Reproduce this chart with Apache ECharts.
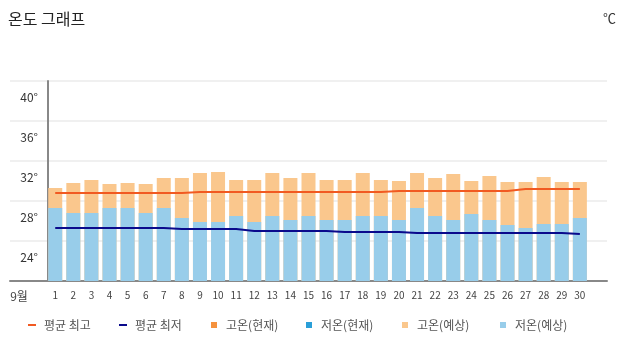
<!DOCTYPE html>
<html>
<head>
<meta charset="utf-8">
<script src="https://cdn.jsdelivr.net/npm/echarts@6/dist/echarts.min.js"></script>
<style>html,body{margin:0;padding:0;background:#fff;}#c{width:628px;height:358px;}</style>
</head>
<body>
<div id="c"></div>
<script>
var monthLabel = '9월';
var days = ['1','2','3','4','5','6','7','8','9','10','11','12','13','14','15','16','17','18','19','20','21','22','23','24','25','26','27','28','29','30'];
var highForecast = [29.3,29.8,30.1,29.7,29.8,29.7,30.3,30.3,30.8,30.9,30.1,30.1,30.8,30.3,30.8,30.1,30.1,30.8,30.1,30.0,30.8,30.3,30.7,30.0,30.5,29.9,29.9,30.4,29.9,29.9];
var lowForecast = [27.3,26.8,26.8,27.3,27.3,26.8,27.3,26.3,25.9,25.9,26.5,25.9,26.5,26.1,26.5,26.1,26.1,26.5,26.5,26.1,27.3,26.5,26.1,26.7,26.1,25.6,25.3,25.7,25.7,26.3];
var avgHigh = [28.8,28.8,28.8,28.8,28.8,28.8,28.8,28.8,28.9,28.9,28.9,28.9,28.9,28.9,28.9,28.9,28.9,28.9,28.9,29.0,29.0,29.0,29.0,29.0,29.0,29.0,29.2,29.2,29.2,29.2];
var avgLow = [25.3,25.3,25.3,25.3,25.3,25.3,25.3,25.2,25.2,25.2,25.2,25.0,25.0,25.0,25.0,25.0,24.9,24.9,24.9,24.9,24.8,24.8,24.8,24.8,24.8,24.8,24.8,24.8,24.8,24.7];
var highNow = [];
var lowNow = [];
var yTicks = [20, 24, 28, 32, 36, 40];

var cats = [monthLabel, ''].concat(days).concat(['']);
function pad(arr){ var out=[null,null]; for (var i=0;i<days.length;i++){ out.push(arr[i]===undefined?null:arr[i]); } out.push(null); return out; }

var font = '"Noto Sans CJK KR", "Noto Sans", sans-serif';
var names = ['평균 최고','평균 최저','고온(현재)','저온(현재)','고온(예상)','저온(예상)'];
var colors = ['#f15a22','#0a0a8c','#f5923e','#2a9fd8','#fac78d','#98cdea'];
var legendLefts = [28,119,211,306,402,500];
var legends = names.map(function(n,i){
  var isLine = i < 2;
  return {
    data:[n], left: legendLefts[i], top: 319, itemWidth: isLine?8:6, itemHeight: isLine?2:6,
    icon: 'rect', itemGap: 0, padding: 0,
    textStyle:{color:'#555', fontSize:12, fontFamily:font, padding:[0,0,0,isLine?3:4]},
    selectedMode:false
  };
});

var chart = echarts.init(document.getElementById('c'), null, {renderer:'canvas'});
chart.setOption({
  animation:false,
  backgroundColor:'#fff',
  title:[
    {text:'온도 그래프', left:8, top:11, padding:0, textStyle:{fontSize:16, fontWeight:'normal', color:'#222', fontFamily:font}},
    {text:'℃', right:12, top:12, padding:0, textStyle:{fontSize:13, fontWeight:'normal', color:'#333', fontFamily:font}}
  ],
  legend: legends,
  grid:{left:10, right:21, top:81, bottom:77, containLabel:false},
  xAxis:{
    type:'category', data:cats,
    axisLine:{lineStyle:{color:'#888', width:2}},
    axisTick:{show:false},
    axisLabel:{interval:0, color:'#444', fontSize:10, margin:9, fontFamily:font,
      formatter:function(v){ return v===monthLabel ? '{m|'+v+'}' : v; },
      rich:{m:{fontSize:12, color:'#444', fontFamily:font}}},
    splitLine:{show:false}
  },
  yAxis:{
    type:'value', min:yTicks[0], max:yTicks[yTicks.length-1], interval:4, offset:-38,
    axisLine:{show:true, lineStyle:{color:'#888', width:2}},
    axisTick:{show:false},
    axisLabel:{showMinLabel:false, color:'#333', fontSize:12, margin:10, fontFamily:font,
      verticalAlign:'top', lineHeight:32,
      formatter:function(v){ return v+'°'; }},
    splitLine:{show:true, lineStyle:{color:'#ebebeb', width:1.5}}
  },
  series:[
    {name:names[0], type:'line', data:pad(avgHigh), symbol:'none', z:5, lineStyle:{color:colors[0], width:2}, itemStyle:{color:colors[0]}},
    {name:names[1], type:'line', data:pad(avgLow), symbol:'none', z:5, lineStyle:{color:colors[1], width:2}, itemStyle:{color:colors[1]}},
    {name:names[2], type:'bar', data:pad(highNow), barWidth:14, barGap:'-100%', itemStyle:{color:colors[2]}},
    {name:names[3], type:'bar', data:pad(lowNow), barWidth:14, barGap:'-100%', itemStyle:{color:colors[3]}},
    {name:names[4], type:'bar', data:pad(highForecast), barWidth:14, barGap:'-100%', itemStyle:{color:colors[4]}},
    {name:names[5], type:'bar', data:pad(lowForecast), barWidth:14, barGap:'-100%', itemStyle:{color:colors[5]}}
  ]
});
</script>
</body>
</html>
